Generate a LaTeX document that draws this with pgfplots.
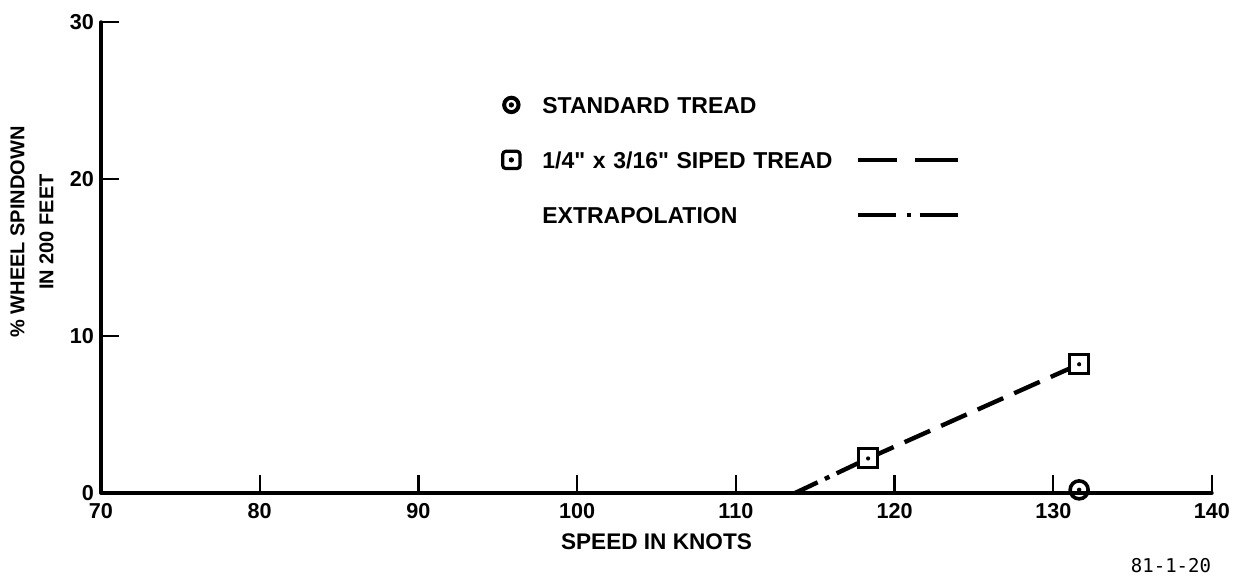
\documentclass[border=0pt]{standalone}
\usepackage{fontspec}
\setmainfont{Liberation Sans}[Ligatures=TeXOff]
\newfontfamily\monof{DejaVu Sans Mono}
\usepackage{pgfplots}
\pgfplotsset{compat=1.18}

\pgfdeclareplotmark{circdot}{%
  \pgfpathcircle{\pgfpointorigin}{\pgfplotmarksize}\pgfusepathqstroke
  \pgfpathcircle{\pgfpointorigin}{0.25\pgfplotmarksize}\pgfusepathqfill}
\pgfdeclareplotmark{sqdot}{%
  \pgfsetcornersarced{\pgfpoint{0.3\pgfplotmarksize}{0.3\pgfplotmarksize}}%
  \pgfpathmoveto{\pgfpoint{0pt}{-\pgfplotmarksize}}%
  \pgfpathlineto{\pgfpoint{\pgfplotmarksize}{-\pgfplotmarksize}}%
  \pgfpathlineto{\pgfpoint{\pgfplotmarksize}{\pgfplotmarksize}}%
  \pgfpathlineto{\pgfpoint{-\pgfplotmarksize}{\pgfplotmarksize}}%
  \pgfpathlineto{\pgfpoint{-\pgfplotmarksize}{-\pgfplotmarksize}}%
  \pgfpathlineto{\pgfpoint{0pt}{-\pgfplotmarksize}}%
  \pgfpathclose
  \pgfsetfillcolor{white}\pgfusepathqfillstroke
  \pgfsetcornersarced{\pgfpointorigin}%
  \pgfpathcircle{\pgfpointorigin}{0.22\pgfplotmarksize}%
  \pgfsetfillcolor{black}\pgfusepathqfill}

\begin{document}
\begin{tikzpicture}
\path[use as bounding box] (-50.5pt,-41pt) rectangle (568.5pt,246.5pt);
\begin{axis}[
  at={(0pt,0pt)}, anchor=south west,
  scale only axis, width=555.5pt, height=235.5pt,
  xmin=70, xmax=140, ymin=0, ymax=30,
  clip=false,
  axis x line*=bottom, axis y line*=left,
  axis line style={line width=1.7pt, line cap=round},
  xtick={70,80,...,140}, ytick={0,10,20,30},
  tick align=inside, major tick length=9pt,
  tick style={line width=1.2pt, black},
  /pgf/number format/assume math mode=true,
  ticklabel style={font=\fontsize{10.8}{12}\selectfont\bfseries},
  xticklabel style={yshift=-1.5pt},
  xlabel={SPEED IN KNOTS},
  xlabel style={font=\fontsize{11.3}{13}\selectfont\bfseries, at={(axis description cs:0.5,0)}, anchor=center, yshift=-24.5pt},
  ylabel={\% WHEEL SPINDOWN\\IN 200 FEET},
  ylabel style={font=\fontsize{10}{14.5}\selectfont\bfseries, align=center, at={(axis description cs:0,0.554)}, anchor=center, yshift=34.5pt},
  legend columns=2,
  legend cell align=left,
  legend style={draw=none, fill=none, inner xsep=0pt, inner ysep=0pt,
    at={(axis description cs:0.3582,0.8469)}, anchor=north west,
    row sep=17.1pt, column sep=0pt,
    font=\fontsize{11.5}{13}\selectfont\bfseries,
    nodes={inner sep=0pt, text height=8.2pt, text depth=0pt, text width=156.5pt, align=left}},
]
% extrapolation
\addplot[forget plot, line width=2.2pt, dash pattern=on 12.5pt off 4pt on 2.5pt off 4pt]
  coordinates {(113.73,0) (118.33,2.2)};
% siped tread
\addplot[forget plot, line width=2.2pt, dash pattern=on 14pt off 6pt,
  mark=sqdot, mark size=4.75pt, mark options={solid, line width=1.5pt}]
  coordinates {(118.33,2.2) (131.63,8.2)};
% standard tread
\addplot[forget plot, only marks, mark=circdot, mark size=4.5pt, mark options={line width=1.8pt}]
  coordinates {(131.63,0.2)};

\addlegendimage{legend image code/.code={\draw[line width=2pt] (0,0) circle (3.6pt); \fill (0,0) circle (1.1pt); \path[draw=none,fill=none] (-6pt,-5.2pt) rectangle (15.5pt,5.2pt);}}
\addlegendentry{STANDARD TREAD}
\addlegendimage{legend image code/.code={\path[draw=none,fill=none] (0pt,-5.2pt) rectangle (50pt,5.2pt);}}
\addlegendentry{}
\addlegendimage{legend image code/.code={\draw[line width=1.6pt, rounded corners=1.5pt] (-4.3pt,-4.3pt) rectangle (4.3pt,4.3pt); \fill (0,0) circle (1.1pt); \path[draw=none,fill=none] (-6pt,-5.2pt) rectangle (15.5pt,5.2pt);}}
\addlegendentry{1/4" x 3/16" SIPED TREAD}
\addlegendimage{legend image code/.code={\draw[line width=2.2pt] (0,0)--(19.5pt,0); \draw[line width=2.2pt] (28.5pt,0)--(50pt,0); \path[draw=none,fill=none] (0pt,-5.2pt) rectangle (50pt,5.2pt);}}
\addlegendentry{}
\addlegendimage{legend image code/.code={\path[draw=none,fill=none] (-6pt,-5.2pt) rectangle (15.5pt,5.2pt);}}
\addlegendentry{EXTRAPOLATION}
\addlegendimage{legend image code/.code={\draw[line width=2.2pt] (0,0)--(19pt,0); \draw[line width=2.2pt] (24.5pt,0)--(26.5pt,0); \draw[line width=2.2pt] (31pt,0)--(50pt,0); \path[draw=none,fill=none] (0pt,-5.2pt) rectangle (50pt,5.2pt);}}
\addlegendentry{}
\end{axis}
\node[font=\monof\fontsize{9.5}{11}\selectfont, anchor=center] at (535pt,-36.5pt) {81-1-20};
\end{tikzpicture}
\end{document}
